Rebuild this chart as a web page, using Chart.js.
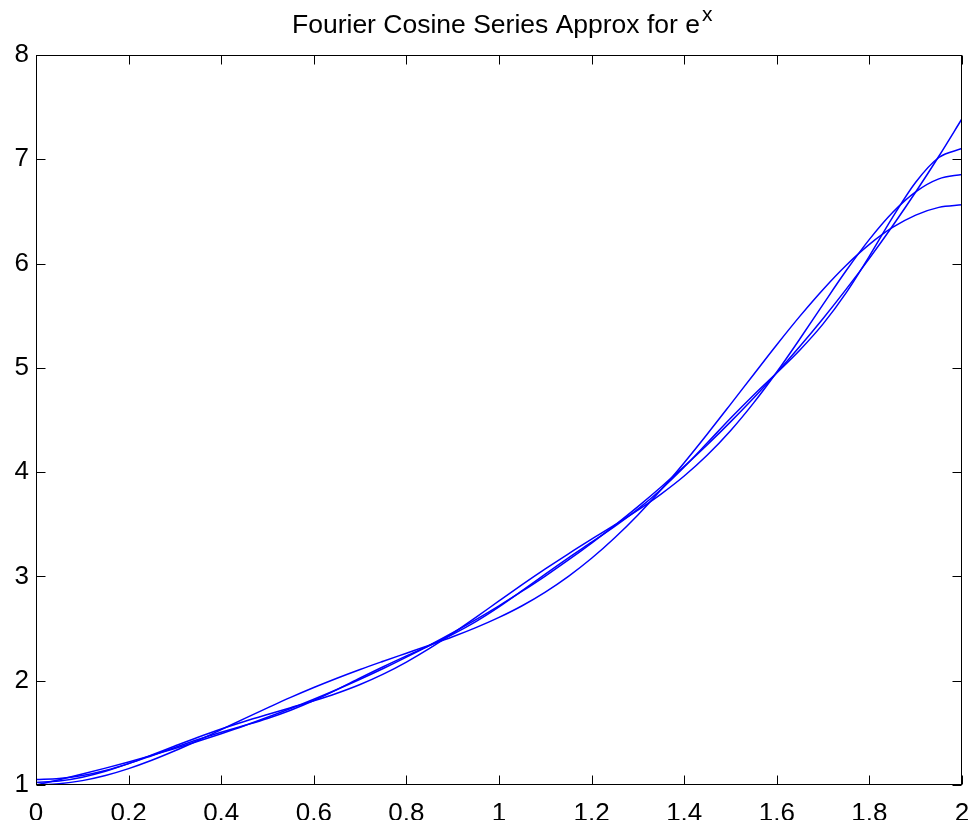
<!DOCTYPE html>
<html>
<head>
<meta charset="utf-8">
<title>Fourier Cosine Series Approx for e^x</title>
<script src="https://cdn.jsdelivr.net/npm/chart.js@4.4.0/dist/chart.umd.min.js"></script>
<style>
  html, body { margin: 0; padding: 0; background: #fff; }
  #wrap { width: 971px; height: 820px; }
</style>
</head>
<body>
<div id="wrap"><canvas id="fourierChart" width="971" height="820"></canvas></div>
<script>
// Fourier cosine partial sums vs e^x

const xs = [0, 0.05, 0.1, 0.15, 0.2, 0.25, 0.3, 0.35, 0.4, 0.45, 0.5, 0.55, 0.6, 0.65, 0.7, 0.75,
            0.8, 0.85, 0.9, 0.95, 1.0, 1.05, 1.1, 1.15, 1.2, 1.25, 1.3, 1.35, 1.4, 1.45, 1.5,
            1.55, 1.6, 1.65, 1.7, 1.75, 1.8, 1.85, 1.9, 1.95, 2.0];

const sum3  = [1.001, 1.012, 1.042, 1.091, 1.157, 1.237, 1.328, 1.427, 1.531, 1.636, 1.739,
               1.840, 1.935, 2.024, 2.108, 2.187, 2.264, 2.341, 2.421, 2.509, 2.607, 2.719,
               2.850, 3.001, 3.174, 3.371, 3.590, 3.831, 4.091, 4.366, 4.650, 4.937, 5.222,
               5.496, 5.752, 5.984, 6.184, 6.346, 6.465, 6.539, 6.563];
const sum5  = [1.025, 1.038, 1.075, 1.132, 1.205, 1.288, 1.374, 1.458, 1.537, 1.609, 1.676,
               1.741, 1.807, 1.880, 1.964, 2.063, 2.179, 2.310, 2.454, 2.607, 2.765, 2.921,
               3.072, 3.217, 3.357, 3.494, 3.636, 3.790, 3.963, 4.164, 4.397, 4.664, 4.960,
               5.279, 5.609, 5.933, 6.232, 6.490, 6.688, 6.812, 6.855];
const sum10 = [1.052, 1.062, 1.091, 1.140, 1.205, 1.281, 1.360, 1.436, 1.505, 1.570, 1.638,
               1.717, 1.810, 1.915, 2.026, 2.134, 2.237, 2.338, 2.445, 2.567, 2.708, 2.863,
               3.023, 3.179, 3.329, 3.480, 3.645, 3.834, 4.049, 4.281, 4.516, 4.740, 4.953,
               5.172, 5.422, 5.722, 6.072, 6.443, 6.780, 7.017, 7.103];
const expx  = [1.000, 1.051, 1.105, 1.162, 1.221, 1.284, 1.350, 1.419, 1.492, 1.568, 1.649,
               1.733, 1.822, 1.916, 2.014, 2.117, 2.226, 2.340, 2.460, 2.586, 2.718, 2.858,
               3.004, 3.158, 3.320, 3.490, 3.669, 3.857, 4.055, 4.263, 4.482, 4.711, 4.953,
               5.207, 5.474, 5.755, 6.050, 6.360, 6.686, 7.029, 7.389];

const xTicks = { min: 0, max: 2, step: 0.2 };
const yTicks = { min: 1, max: 8, step: 1 };

const fontFamily = '"Liberation Sans", Arial, Helvetica, sans-serif';
const tickLen = 9;

function toPoints(ys) {
  return xs.map((x, i) => ({ x: x, y: ys[i] }));
}

function makeSeries(label, ys) {
  return {
    label: label,
    data: toPoints(ys),
    borderColor: '#0000ff',
    borderWidth: 1.5,
    pointRadius: 0,
    fill: false,
    cubicInterpolationMode: 'monotone'
  };
}

// box, inward ticks on all four sides, title with superscript
const matlabAxes = {
  id: 'matlabAxes',
  afterDraw(chart) {
    const { ctx, chartArea: a, scales } = chart;
    const sx = scales.x, sy = scales.y;
    const L = Math.round(a.left) + 0.5, R = Math.round(a.right) - 0.5;
    const T = Math.round(a.top) + 0.5, B = Math.round(a.bottom) - 0.5;

    ctx.save();
    ctx.strokeStyle = '#000';
    ctx.lineWidth = 1;
    ctx.beginPath();
    sx.ticks.forEach(t => {
      const px = Math.round(sx.getPixelForValue(t.value)) + 0.5;
      ctx.moveTo(px, B); ctx.lineTo(px, B - tickLen);
      ctx.moveTo(px, T); ctx.lineTo(px, T + tickLen);
    });
    sy.ticks.forEach(t => {
      const py = Math.round(sy.getPixelForValue(t.value)) + 0.5;
      ctx.moveTo(L, py); ctx.lineTo(L + tickLen, py);
      ctx.moveTo(R, py); ctx.lineTo(R - tickLen, py);
    });
    ctx.stroke();
    ctx.strokeRect(L, T, R - L, B - T);

    // title, "e" with superscript "x"
    const main = 'Fourier Cosine Series Approx for e';
    const sup = 'x';
    ctx.fillStyle = '#000';
    ctx.textBaseline = 'alphabetic';
    ctx.textAlign = 'left';
    ctx.font = '26.5px ' + fontFamily;
    const w1 = ctx.measureText(main).width;
    const start = 292;
    ctx.fillText(main, start, 33);
    ctx.font = '21px ' + fontFamily;
    ctx.fillText(sup, start + w1 + 2, 21);
    ctx.restore();
  }
};

const chart = new Chart(document.getElementById('fourierChart'), {
  type: 'line',
  data: {
    datasets: [
      makeSeries('N = 3', sum3),
      makeSeries('N = 5', sum5),
      makeSeries('N = 10', sum10),
      makeSeries('e^x', expx)
    ]
  },
  options: {
    responsive: false,
    animation: false,
    layout: { padding: { top: 55, right: 9, left: 0, bottom: 0 } },
    plugins: {
      legend: { display: false },
      tooltip: { enabled: false },
      title: { display: false }
    },
    scales: {
      x: {
        type: 'linear',
        min: xTicks.min,
        max: xTicks.max,
        grid: { display: false, drawTicks: false },
        border: { display: false },
        ticks: {
          stepSize: xTicks.step,
          color: '#000',
          padding: 13,
          maxRotation: 0,
          font: { family: fontFamily, size: 26 },
          callback: v => String(Math.round(v * 10) / 10)
        },
        afterFit(scale) {
          scale.height = 35;
          scale.paddingLeft = 0;
          scale.paddingRight = 0;
        }
      },
      y: {
        type: 'linear',
        min: yTicks.min,
        max: yTicks.max,
        grid: { display: false, drawTicks: false },
        border: { display: false },
        ticks: {
          stepSize: yTicks.step,
          color: '#000',
          padding: 7,
          font: { family: fontFamily, size: 26 }
        },
        afterFit(scale) {
          scale.width = 36;
          scale.paddingTop = 0;
          scale.paddingBottom = 0;
        }
      }
    }
  },
  plugins: [matlabAxes]
});
</script>
</body>
</html>
